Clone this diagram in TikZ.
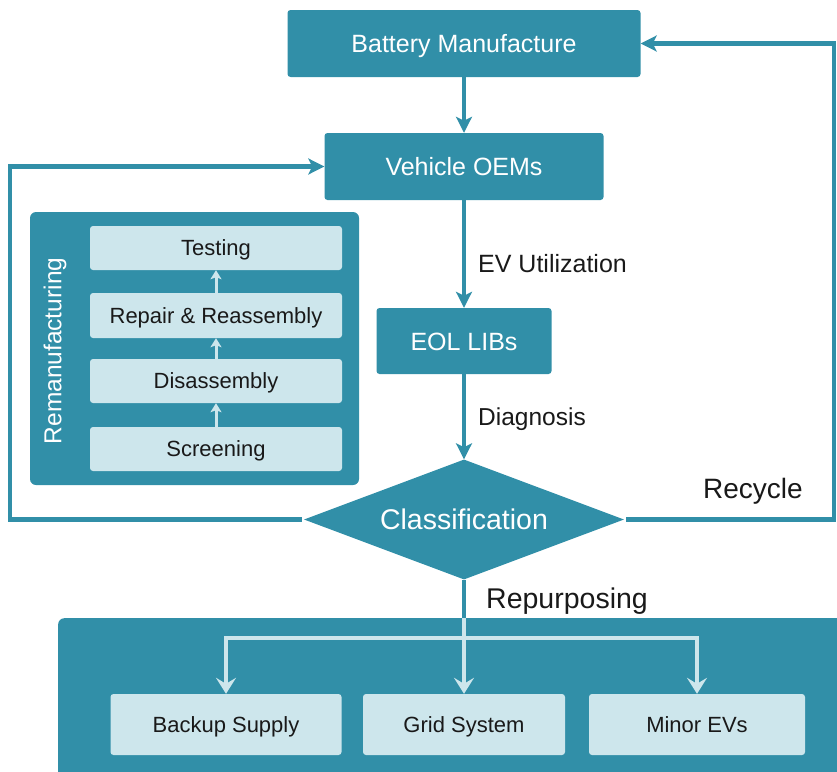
\documentclass[tikz,border=0pt]{standalone}
\usepackage{fontspec}
\setmainfont{Liberation Sans}
\usetikzlibrary{shapes.geometric,arrows.meta}
\definecolor{tealc}{RGB}{49,143,168}
\definecolor{litec}{RGB}{205,230,236}
\definecolor{inkc}{RGB}{25,25,25}
\begin{document}
\begin{tikzpicture}[x=1pt,y=-1pt,
  capc/.style={text height=#1, text depth=0pt},
  tealbox/.style={rectangle, fill=tealc, rounded corners=3pt, text=white, inner sep=0pt,
    font=\fontsize{25}{28}\selectfont, capc=18pt},
  litebox/.style={rectangle, fill=litec, rounded corners=3pt, text=inkc, inner sep=0pt,
    font=\fontsize{22}{26}\selectfont, capc=15.8pt},
  panel/.style={rectangle, fill=tealc, rounded corners=6pt, inner sep=0pt},
  conn/.style={draw=tealc, line width=4.5pt, -{Stealth[length=16pt,width=16pt,inset=4pt]}},
  plain/.style={draw=tealc, line width=4.5pt},
  liteline/.style={draw=litec, line width=4.5pt},
  litearrow/.style={draw=litec, line width=4.5pt, -{Stealth[length=16pt,width=20pt,inset=6pt]}},
  smallarrow/.style={draw=litec, line width=3pt, -{Stealth[length=9pt,width=11pt,inset=2pt]}},
  lbl/.style={anchor=west, inner sep=0pt, text=inkc},
]
\useasboundingbox (0,0) rectangle (837,771);

% main nodes
\node[tealbox, minimum width=353pt, minimum height=67pt] (bm) at (464,43.5) {Battery Manufacture};
\node[tealbox, minimum width=279pt, minimum height=67pt] (oem) at (464,166.5) {Vehicle OEMs};
\node[tealbox, minimum width=175pt, minimum height=66pt] (eol) at (464,341) {EOL LIBs};
\node[diamond, fill=tealc, text=white, inner sep=0pt, aspect=2.7,
      minimum width=320pt, minimum height=120pt, capc=20.5pt,
      font=\fontsize{28.5}{32}\selectfont] (cls) at (464,519.5) {Classification};

% remanufacturing panel
\node[panel, minimum width=329pt, minimum height=273pt] (rem) at (194.5,348.5) {};
\node[rotate=90, text=white, inner sep=0pt, font=\fontsize{24.5}{28}\selectfont] (remt) at (55,351) {Remanufacturing};
\node[litebox, minimum width=252pt, minimum height=44pt] (test) at (216,248) {Testing};
\node[litebox, minimum width=252pt, minimum height=45pt] (rep) at (216,315.5) {Repair \& Reassembly};
\node[litebox, minimum width=252pt, minimum height=44pt] (dis) at (216,381) {Disassembly};
\node[litebox, minimum width=252pt, minimum height=44pt] (scr) at (216,449) {Screening};
\draw[smallarrow] (scr.north) -- (dis.south);
\draw[smallarrow] (dis.north) -- (rep.south);
\draw[smallarrow] (rep.north) -- (test.south);

% bottom panel
\node[panel, anchor=north west, minimum width=800pt, minimum height=180pt] (bot) at (58,618) {};
\node[litebox, minimum width=231pt, minimum height=61pt] (bak) at (226,724.5) {Backup Supply};
\node[litebox, minimum width=202pt, minimum height=61pt] (grid) at (464,724.5) {Grid System};
\node[litebox, minimum width=216pt, minimum height=61pt] (minor) at (697,724.5) {Minor EVs};

% coordinates
\coordinate (pin) at (464,618);
\coordinate (br) at (464,638);
\coordinate (lft) at (10,519.5);
\coordinate (rgt) at (834,519.5);

% connectors
\draw[conn] (bm.south) -- (oem.north);
\draw[conn] (oem.south) -- (eol.north);
\draw[conn] (eol.south) -- (cls.north);
\draw[conn, shorten <=2pt] (cls.west) -- (lft) |- (oem.west);
\draw[conn, shorten <=2pt] (cls.east) -- (rgt) |- (bm.east);
\draw[plain] (cls.south) -- (pin);
\draw[liteline] (pin) -- (br);
\draw[litearrow] (br) -| (bak.north);
\draw[litearrow] (br) -- (grid.north);
\draw[litearrow] (br) -| (minor.north);

% labels
\node[lbl, capc=18pt, font=\fontsize{25}{28}\selectfont] (evu) at (478,263) {EV Utilization};
\node[lbl, capc=17.6pt, font=\fontsize{24.5}{28}\selectfont] (diag) at (478,417) {Diagnosis};
\node[lbl, capc=20.2pt, font=\fontsize{28}{30}\selectfont] (rec) at (703,488) {Recycle};
\node[lbl, capc=20.5pt, font=\fontsize{28.5}{30}\selectfont] (repu) at (486,598) {Repurposing};
\end{tikzpicture}
\end{document}
